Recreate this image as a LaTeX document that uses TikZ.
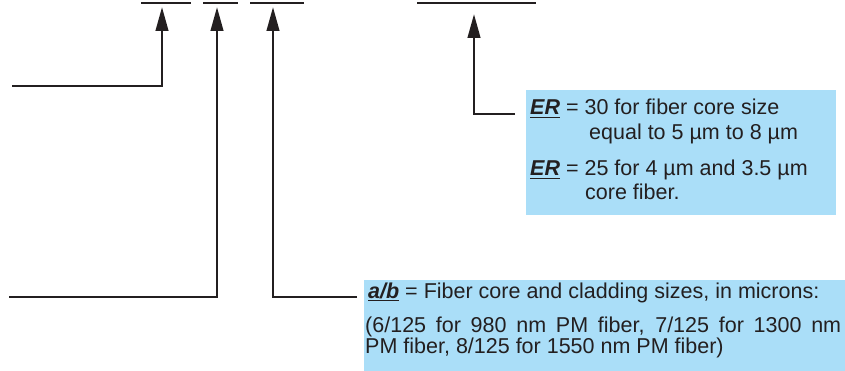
\documentclass[tikz,border=0pt]{standalone}
\usepackage{fontspec}
\setmainfont{Liberation Sans}
\usetikzlibrary{arrows.meta}
\definecolor{boxblue}{RGB}{170,222,248}
\definecolor{ink}{RGB}{35,31,32}
\newcommand{\thickul}[1]{\setbox0\hbox{#1}\leavevmode\rlap{\raisebox{-3.2pt}{\rule{\wd0}{1.6pt}}}\box0}
\newcommand{\erlbl}{\thickul{\textbf{\textit{ER}}}}
\newcommand{\ablbl}{\thickul{\textbf{\textit{a/b}}}}
\tikzset{
  blank/.style={draw=ink, line width=2.7pt},
  leader/.style={draw=ink, line width=2.7pt, -{Triangle[length=24pt,width=12.5pt]}},
  infobox/.style={fill=boxblue, draw=none, inner sep=0pt, anchor=north west},
  txt/.style={anchor=base west, inner sep=0pt, text=ink, font=\fontsize{21.5}{25}\selectfont}
}
\begin{document}
\begin{tikzpicture}[x=1pt,y=-1pt]
\useasboundingbox (0,0) rectangle (845,371);
% boxes
\node[infobox, minimum width=310pt, minimum height=125pt] (erbox) at (526,90) {};
\node[infobox, minimum width=481pt, minimum height=91pt] (abbox) at (364,280) {};
% blanks
\coordinate (b1l) at (141,3); \coordinate (b1r) at (191,3);
\coordinate (b2l) at (203,3); \coordinate (b2r) at (238,3);
\coordinate (b3l) at (250,3); \coordinate (b3r) at (304,3);
\coordinate (b4l) at (417,3); \coordinate (b4r) at (536,3);
\draw[blank] (b1l) -- (b1r);
\draw[blank] (b2l) -- (b2r);
\draw[blank] (b3l) -- (b3r);
\draw[blank] (b4l) -- (b4r);
% leaders
\coordinate (s1) at (12,86);  \coordinate (t1) at (162,7);
\coordinate (s2) at (9,297);  \coordinate (t2) at (217,7);
\coordinate (s3) at (357,297); \coordinate (t3) at (273,7);
\coordinate (s4) at (515,114); \coordinate (t4) at (474,14);
\draw[leader] (s1) -| (t1);
\draw[leader] (s2) -| (t2);
\draw[leader] (s3) -| (t3);
\draw[leader] (s4) -| (t4);
% ER text
\node[txt] (er1) at (530,115) {\erlbl\ = 30 for fiber core size};
\node[txt] (er2) at (589,140) {equal to 5 µm to 8 µm};
\node[txt] (er3) at (530,176) {\erlbl\ = 25 for 4 µm and 3.5 µm};
\node[txt] (er4) at (585,200) {core fiber.};
% a/b text
\node[txt] (ab1) at (368,298) {\ablbl\ = Fiber core and cladding sizes, in microns:};
\node[txt] (ab2) at (365,332) {\makebox[476pt][s]{(6/125 for 980 nm PM fiber, 7/125 for 1300 nm}};
\node[txt] (ab3) at (365,353) {PM fiber, 8/125 for 1550 nm PM fiber)};
\end{tikzpicture}
\end{document}
